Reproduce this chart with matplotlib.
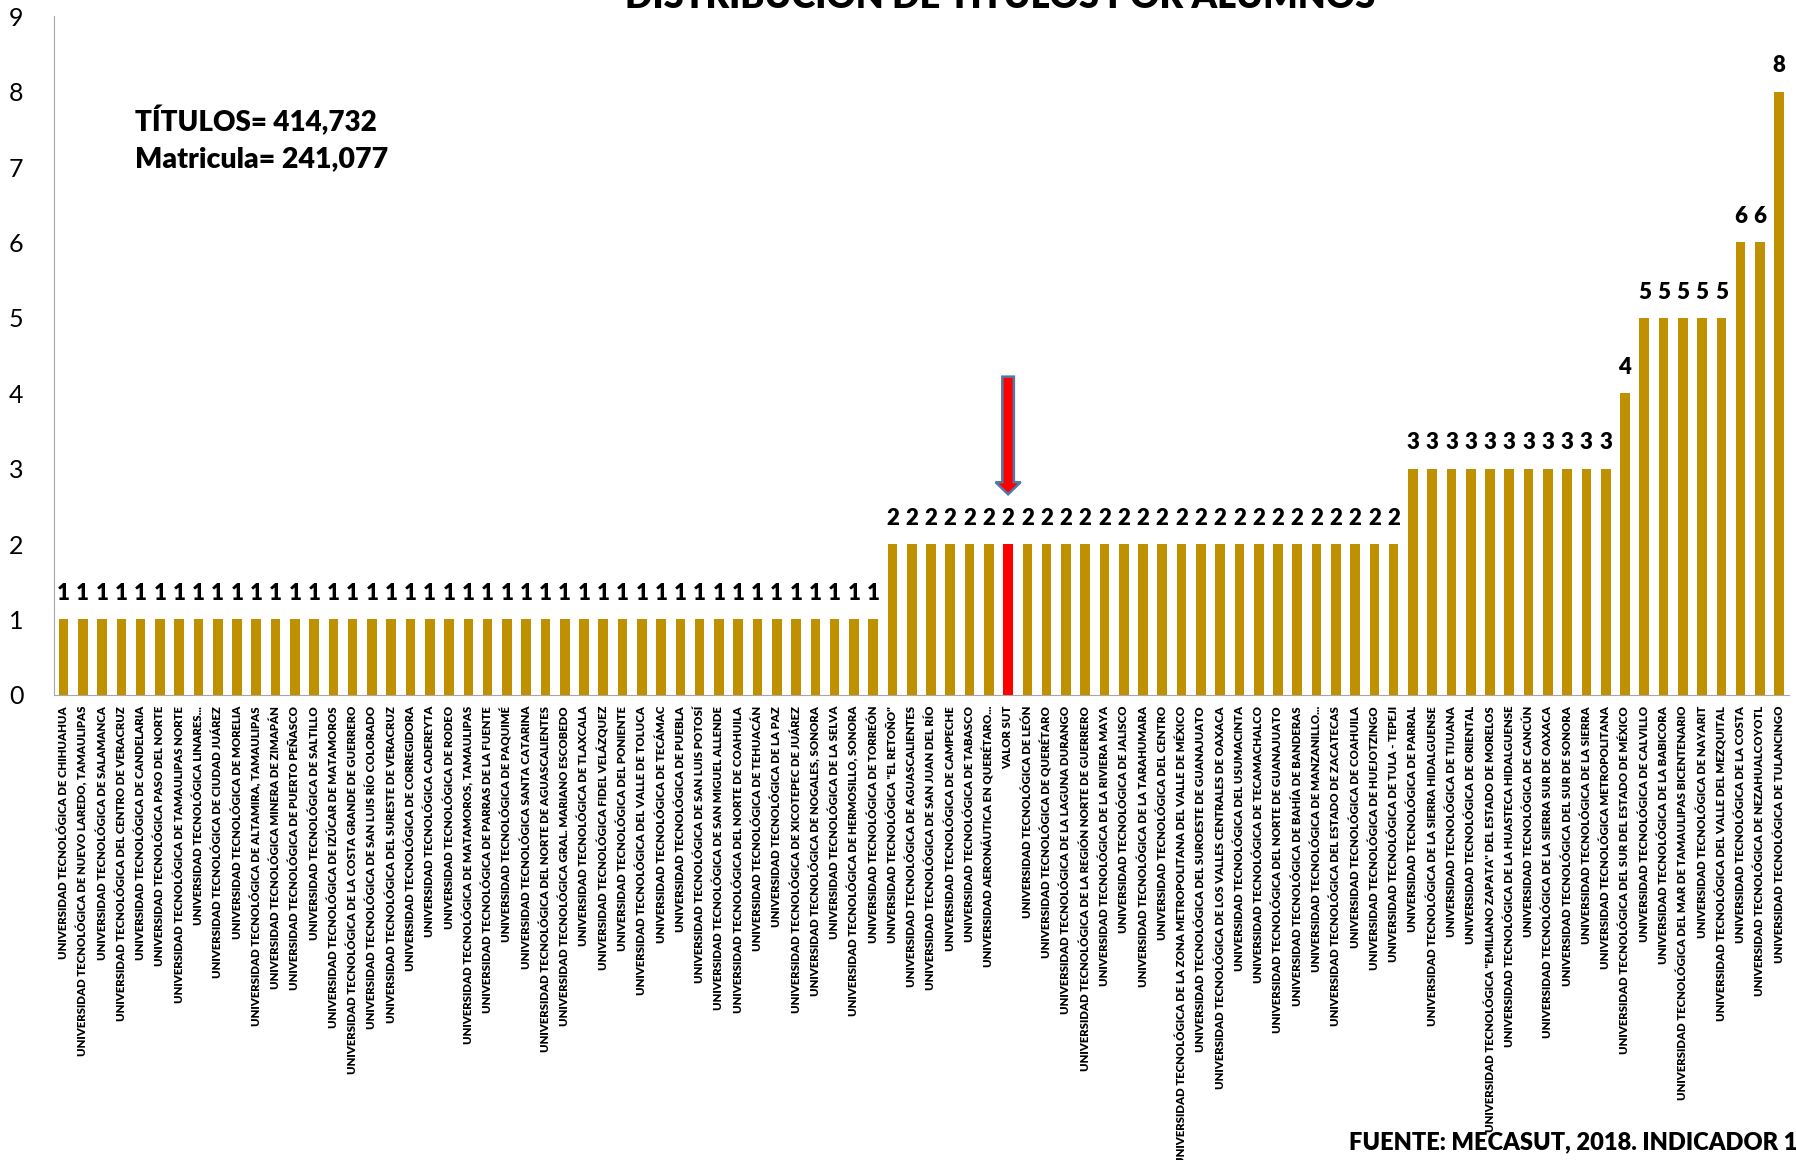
import matplotlib
matplotlib.use('Agg')
import matplotlib.pyplot as plt
from matplotlib.patches import FancyArrow

plt.rcParams['font.family'] = ['Lato', 'DejaVu Sans']

# universities (in chart order) and titles per student
labels = [
    'UNIVERSIDAD TECNOLÓGICA DE CHIHUAHUA',
    'UNIVERSIDAD TECNOLÓGICA DE NUEVO LAREDO, TAMAULIPAS',
    'UNIVERSIDAD TECNOLÓGICA DE SALAMANCA',
    'UNIVERSIDAD TECNOLÓGICA DEL CENTRO DE VERACRUZ',
    'UNIVERSIDAD TECNOLÓGICA DE CANDELARIA',
    'UNIVERSIDAD TECNOLÓGICA PASO DEL NORTE',
    'UNIVERSIDAD TECNOLÓGICA DE TAMAULIPAS NORTE',
    'UNIVERSIDAD TECNOLÓGICA LINARES...',
    'UNIVERSIDAD TECNOLÓGICA DE CIUDAD JUÁREZ',
    'UNIVERSIDAD TECNOLÓGICA DE MORELIA',
    'UNIVERSIDAD TECNOLÓGICA DE ALTAMIRA, TAMAULIPAS',
    'UNIVERSIDAD TECNOLÓGICA MINERA DE ZIMAPÁN',
    'UNIVERSIDAD TECNOLÓGICA DE PUERTO PEÑASCO',
    'UNIVERSIDAD TECNOLÓGICA DE SALTILLO',
    'UNIVERSIDAD TECNOLÓGICA DE IZÚCAR DE MATAMOROS',
    'UNIVERSIDAD TECNOLÓGICA DE LA COSTA GRANDE DE GUERRERO',
    'UNIVERSIDAD TECNOLÓGICA DE SAN LUIS RÍO COLORADO',
    'UNIVERSIDAD TECNOLÓGICA DEL SURESTE DE VERACRUZ',
    'UNIVERSIDAD TECNOLÓGICA DE CORREGIDORA',
    'UNIVERSIDAD TECNOLÓGICA CADEREYTA',
    'UNIVERSIDAD TECNOLÓGICA DE RODEO',
    'UNIVERSIDAD TECNOLÓGICA DE MATAMOROS, TAMAULIPAS',
    'UNIVERSIDAD TECNOLÓGICA DE PARRAS DE LA FUENTE',
    'UNIVERSIDAD TECNOLÓGICA DE PAQUIMÉ',
    'UNIVERSIDAD TECNOLÓGICA SANTA CATARINA',
    'UNIVERSIDAD TECNOLÓGICA DEL NORTE DE AGUASCALIENTES',
    'UNIVERSIDAD TECNOLÓGICA GRAL. MARIANO ESCOBEDO',
    'UNIVERSIDAD TECNOLÓGICA DE TLAXCALA',
    'UNIVERSIDAD TECNOLÓGICA FIDEL VELÁZQUEZ',
    'UNIVERSIDAD TECNOLÓGICA DEL PONIENTE',
    'UNIVERSIDAD TECNOLÓGICA DEL VALLE DE TOLUCA',
    'UNIVERSIDAD TECNOLÓGICA DE TECÁMAC',
    'UNIVERSIDAD TECNOLÓGICA DE PUEBLA',
    'UNIVERSIDAD TECNOLÓGICA DE SAN LUIS POTOSÍ',
    'UNIVERSIDAD TECNOLÓGICA DE SAN MIGUEL ALLENDE',
    'UNIVERSIDAD TECNOLÓGICA DEL NORTE DE COAHUILA',
    'UNIVERSIDAD TECNOLÓGICA DE TEHUACÁN',
    'UNIVERSIDAD TECNOLÓGICA DE LA PAZ',
    'UNIVERSIDAD TECNOLÓGICA DE XICOTEPEC DE JUÁREZ',
    'UNIVERSIDAD TECNOLÓGICA DE NOGALES, SONORA',
    'UNIVERSIDAD TECNOLÓGICA DE LA SELVA',
    'UNIVERSIDAD TECNOLÓGICA DE HERMOSILLO, SONORA',
    'UNIVERSIDAD TECNOLÓGICA DE TORREÓN',
    'UNIVERSIDAD TECNOLÓGICA "EL RETOÑO"',
    'UNIVERSIDAD TECNOLÓGICA DE AGUASCALIENTES',
    'UNIVERSIDAD TECNOLÓGICA DE SAN JUAN DEL RÍO',
    'UNIVERSIDAD TECNOLÓGICA DE CAMPECHE',
    'UNIVERSIDAD TECNOLÓGICA DE TABASCO',
    'UNIVERSIDAD AERONÁUTICA EN QUERÉTARO...',
    'VALOR SUT',
    'UNIVERSIDAD TECNOLÓGICA DE LEÓN',
    'UNIVERSIDAD TECNOLÓGICA DE QUERÉTARO',
    'UNIVERSIDAD TECNOLÓGICA DE LA LAGUNA DURANGO',
    'UNIVERSIDAD TECNOLÓGICA DE LA REGIÓN NORTE DE GUERRERO',
    'UNIVERSIDAD TECNOLÓGICA DE LA RIVIERA MAYA',
    'UNIVERSIDAD TECNOLÓGICA DE JALISCO',
    'UNIVERSIDAD TECNOLÓGICA DE LA TARAHUMARA',
    'UNIVERSIDAD TECNOLÓGICA DEL CENTRO',
    'UNIVERSIDAD TECNOLÓGICA DE LA ZONA METROPOLITANA DEL VALLE DE MÉXICO',
    'UNIVERSIDAD TECNOLÓGICA DEL SUROESTE DE GUANAJUATO',
    'UNIVERSIDAD TECNOLÓGICA DE LOS VALLES CENTRALES DE OAXACA',
    'UNIVERSIDAD TECNOLÓGICA DEL USUMACINTA',
    'UNIVERSIDAD TECNOLÓGICA DE TECAMACHALCO',
    'UNIVERSIDAD TECNOLÓGICA DEL NORTE DE GUANAJUATO',
    'UNIVERSIDAD TECNOLÓGICA DE BAHÍA DE BANDERAS',
    'UNIVERSIDAD TECNOLÓGICA DE MANZANILLO...',
    'UNIVERSIDAD TECNOLÓGICA DEL ESTADO DE ZACATECAS',
    'UNIVERSIDAD TECNOLÓGICA DE COAHUILA',
    'UNIVERSIDAD TECNOLÓGICA DE HUEJOTZINGO',
    'UNIVERSIDAD TECNOLÓGICA DE TULA - TEPEJI',
    'UNIVERSIDAD TECNOLÓGICA DE PARRAL',
    'UNIVERSIDAD TECNOLÓGICA DE LA SIERRA HIDALGUENSE',
    'UNIVERSIDAD TECNOLÓGICA DE TIJUANA',
    'UNIVERSIDAD TECNOLÓGICA DE ORIENTAL',
    'UNIVERSIDAD TECNOLÓGICA "EMILIANO ZAPATA" DEL ESTADO DE MORELOS',
    'UNIVERSIDAD TECNOLÓGICA DE LA HUASTECA HIDALGUENSE',
    'UNIVERSIDAD TECNOLÓGICA DE CANCÚN',
    'UNIVERSIDAD TECNOLÓGICA DE LA SIERRA SUR DE OAXACA',
    'UNIVERSIDAD TECNOLÓGICA DEL SUR DE SONORA',
    'UNIVERSIDAD TECNOLÓGICA DE LA SIERRA',
    'UNIVERSIDAD TECNOLÓGICA METROPOLITANA',
    'UNIVERSIDAD TECNOLÓGICA DEL SUR DEL ESTADO DE MÉXICO',
    'UNIVERSIDAD TECNOLÓGICA DE CALVILLO',
    'UNIVERSIDAD TECNOLÓGICA DE LA BABICORA',
    'UNIVERSIDAD TECNOLÓGICA DEL MAR DE TAMAULIPAS BICENTENARIO',
    'UNIVERSIDAD TECNOLÓGICA DE NAYARIT',
    'UNIVERSIDAD TECNOLÓGICA DEL VALLE DEL MEZQUITAL',
    'UNIVERSIDAD TECNOLÓGICA DE LA COSTA',
    'UNIVERSIDAD TECNOLÓGICA DE NEZAHUALCOYOTL',
    'UNIVERSIDAD TECNOLÓGICA DE TULANCINGO',
]

values = [1] * 43 + [2] * 27 + [3] * 11 + [4] + [5] * 5 + [6, 6] + [8]

highlight = 'VALOR SUT'

gold = '#BF9000'
colors = ['#FF0000' if l == highlight else gold for l in labels]

fig = plt.figure(figsize=(17.96, 11.6), dpi=100)
ax = fig.add_axes([0.030, 0.401, 0.966, 0.585])

x = list(range(len(labels)))
bars = ax.bar(x, values, width=0.5, color=colors)
ax.bar_label(bars, padding=11, fontsize=16, fontweight='heavy')

ax.set_xlim(-0.5, len(labels) - 0.5)
ax.set_ylim(0, 9)
ax.set_yticks(range(10))
ax.tick_params(axis='y', length=0, labelsize=18, pad=22)
ax.set_xticks(x)
ax.set_xticklabels(labels, rotation=90, fontsize=8.2, fontweight='heavy', va='top', ha='center')
ax.tick_params(axis='x', length=0, pad=8)
for s in ['top', 'right']:
    ax.spines[s].set_visible(False)
for s in ['left', 'bottom']:
    ax.spines[s].set_color('#A6A6A6')

# arrow pointing at the SUT value
i = labels.index(highlight)
ax.add_patch(FancyArrow(i, 4.22, 0, -1.56, width=0.6, head_width=1.3, head_length=0.16,
                        length_includes_head=True, facecolor='#FF0000', edgecolor='#4F7BA8',
                        linewidth=1.8, zorder=5))

fig.text(0.075, 0.896, 'TÍTULOS= 414,732', fontsize=20, fontweight='heavy', va='center')
fig.text(0.075, 0.863, 'Matricula= 241,077', fontsize=20.5, fontweight='heavy', va='center')
fig.text(0.557, 0.993, 'DISTRIBUCIÓN DE TÍTULOS POR ALUMNOS', fontsize=26, fontweight='heavy',
         ha='center', va='baseline')
fig.text(0.751, 0.009, 'FUENTE: MECASUT, 2018. INDICADOR 16', fontsize=17, fontweight='heavy',
         ha='left', va='baseline')

fig.savefig('out.png', dpi=100)
